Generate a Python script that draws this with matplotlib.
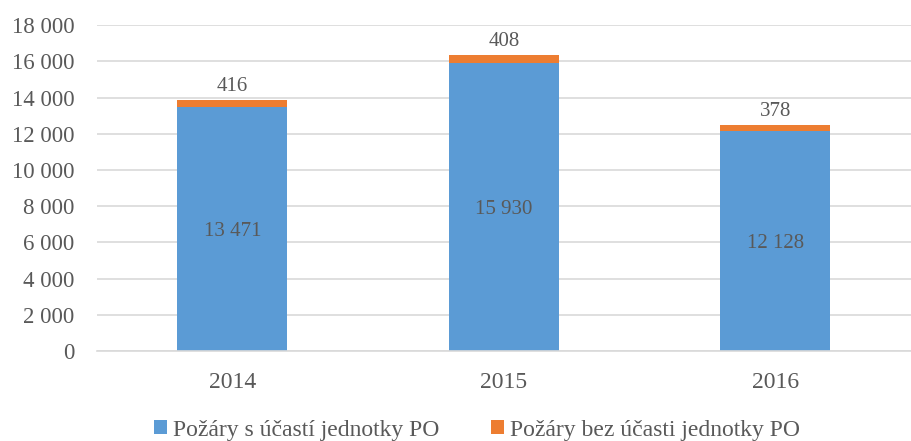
import numpy as np
import matplotlib
matplotlib.use("Agg")
import matplotlib.pyplot as plt

years = ["2014", "2015", "2016"]
with_unit = [13471, 15930, 12128]
without_unit = [416, 408, 378]
y_ticks = [0, 2000, 4000, 6000, 8000, 10000, 12000, 14000, 16000, 18000]

BLUE = "#5b9bd5"
ORANGE = "#ed7d31"
TEXT = "#595959"

plt.rcParams["font.family"] = ["Liberation Serif", "DejaVu Serif"]


def fmt(v):
    return f"{v:,}".replace(",", " ")


fig = plt.figure(figsize=(9.11, 4.41), dpi=100)
ax = fig.add_axes([0.106, 0.204, 0.894, 0.739])

x = np.arange(len(years))
ax.bar(x, with_unit, width=0.405, color=BLUE, label="Požáry s účastí jednotky PO", zorder=2)
ax.bar(x, without_unit, width=0.405, bottom=with_unit, color=ORANGE,
       label="Požáry bez účasti jednotky PO", zorder=2)

for xi, a, b in zip(x, with_unit, without_unit):
    ax.text(xi, a / 2 - 150, fmt(a), ha="center", va="center", fontsize=15, color=TEXT)
    ax.text(xi, a + b + 220, fmt(b), ha="center", va="bottom", fontsize=15, color=TEXT)

ax.set_xlim(-0.5, len(years) - 0.5)
ax.set_ylim(0, 18000)
ax.set_yticks(y_ticks)
ax.set_yticklabels([fmt(v) for v in y_ticks])
ax.set_xticks(x)
ax.set_xticklabels(years)
ax.tick_params(axis="both", length=0, labelcolor=TEXT)
ax.tick_params(axis="x", pad=15, labelsize=17)
ax.tick_params(axis="y", pad=16, labelsize=16.5)
ax.grid(axis="y", color="#d9d9d9", linewidth=1.2, zorder=0)
for side in ["top", "right", "left"]:
    ax.spines[side].set_visible(False)
ax.spines["bottom"].set_color("#d9d9d9")
ax.spines["bottom"].set_linewidth(1.2)

ax.legend(loc="center", bbox_to_anchor=(0.467, -0.243), ncol=2, frameon=False,
          fontsize=17, labelcolor=TEXT, handlelength=0.55, handleheight=0.55,
          handletextpad=0.25, columnspacing=2.2)

fig.savefig("out.png", dpi=100)
